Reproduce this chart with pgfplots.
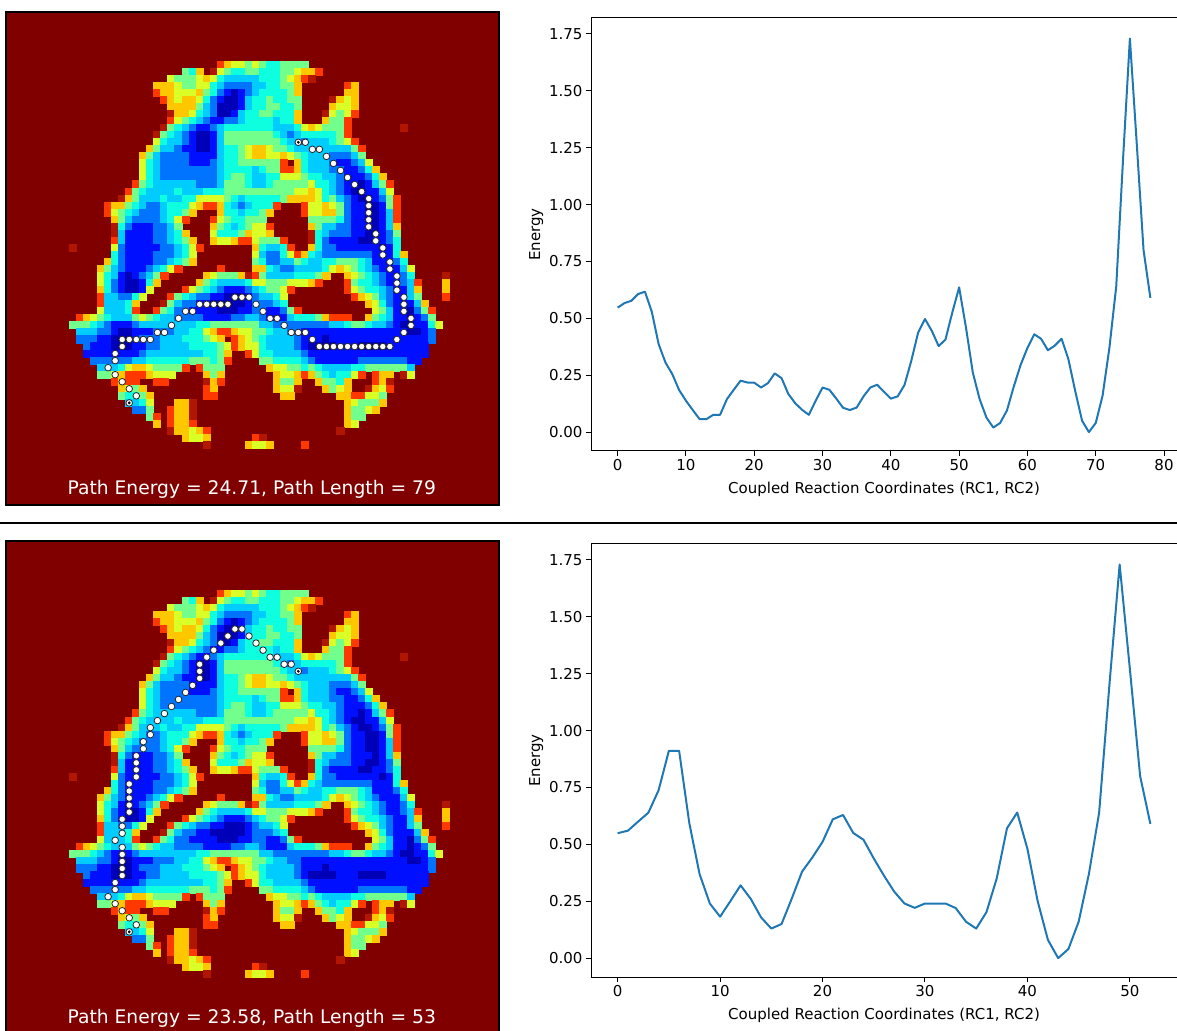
\documentclass[border=0pt]{standalone}
\usepackage{pgfplots}
\pgfplotsset{compat=1.18}
\usepackage{fontspec}
\setmainfont{DejaVu Sans}
\gdef\hmcoords{}
\newcommand\hmrow[3]{\foreach \v [count=\i from #2] in {#3}{\ifdim\v pt<9pt \xdef\hmcoords{\hmcoords (\i,#1) [\v]}\fi}}
\hmrow{7}{30}{8,7,6,6,5,6,5,4,4,5,5,5,5}
\hmrow{8}{25}{5,4,7,9,8.6,6,5,4,4,5,5,4,4,4,5,5,6,7,7,8}
\hmrow{9}{23}{6,5,5,5,6,7,6,4,3,3,3,3,3,4,4,4,5,6,7,8,8.6}
\hmrow{10}{21}{7,7,7,6,5,5,6,6,4,3,2,2,2,2,3,3,4,4,5,5,7,9,9,9,9,9,9,8,7}
\hmrow{11}{21}{8,7,7,6,6,6,7,5,4,2,1,0,1,2,3,4,4,4,4,5,7,9,9,9,9,9,9,7,7}
\hmrow{12}{22}{8,7,6,7,7,6,4,2,1,0,0,1,3,4,4,5,4,4,5,5,9,9,9,9,8.6,7,6,7}
\hmrow{13}{23}{7,7,7,7,5,3,2,0,0,0,1,3,4,4,5,5,4,4,5,9,9,9,9,7,6,6,7}
\hmrow{14}{23}{8.6,7,7,6,4,3,2,0,0,1,3,4,4,5,5,4,4,4,7,9,9,9,8.6,6,5,6,8}
\hmrow{15}{23}{8,6,5,4,3,2,1,1,2,2,3,4,4,4,4,3,4,4,7,9,9,9,7,5,5,8}
\hmrow{16}{22}{8.6,5,4,3,2,1,1,2,3,4,4,4,4,4,4,4,3,3,3,4,6,7,6,5,5,5,8}
\hmrow{16}{56}{8.6}
\hmrow{17}{21}{8.6,5,4,3,2,1,0,0,1,3,5,5,5,5,5,5,5,4,3,2,3,4,4,4,4,4,5,8}
\hmrow{18}{21}{6,4,3,3,2,1,0,0,1,3,5,5,5,5,5,5,5,5,4,3,3,2,3,3,3,4,5,6,8}
\hmrow{19}{20}{7,5,3,3,2,1,1,0,0,1,3,4,4,5,6,7,7,6,5,5,4,3,3,3,3,3,3,3,3,5,8}
\hmrow{20}{19}{7,5,3,2,2,2,2,1,1,1,1,3,4,4,5,6,7,7,6,6,7,6,5,4,3,3,3,2,2,2,3,5}
\hmrow{21}{19}{6,4,3,2,2,2,2,1,1,1,2,3,4,4,5,5,5,5,5,5,8,9,7,4,3,3,3,2,1,1,2,3,6}
\hmrow{22}{19}{6,4,3,2,2,2,2,2,2,2,2,3,4,4,4,4,3,4,5,5,8,8,7,4,3,3,3,2,2,1,1,2,4,7}
\hmrow{23}{19}{6,4,3,2,2,2,2,2,2,2,2,3,4,5,5,4,3,3,4,4,6,6,6,5,4,4,3,3,2,1,1,1,2,4,7}
\hmrow{24}{18}{8,5,4,3,3,3,3,3,3,2,2,2,3,5,5,5,4,3,3,4,5,5,5,5,5,6,4,4,3,2,1,1,0,1,3,5,8}
\hmrow{25}{17}{8,5,4,3,3,3,3,4,3,3,3,4,4,4,5,5,5,5,5,5,5,5,5,5,6,6,7,6,4,3,2,1,0,0,1,1,3,6}
\hmrow{26}{16}{8.6,7,5,3,3,3,4,3,3,4,4,6,6,6,6,5,4,3,4,4,4,4,4,5,7,7,7,7,6,4,5,3,2,1,0,0,1,2,5,8}
\hmrow{27}{14}{8,7,7,5,4,3,2,2,3,4,4,4,6,7,8,8,7,4,3,2,3,4,4,4,8,9,9,9,8,6,6,7,6,5,2,1,1,0,0,1,5,8}
\hmrow{28}{14}{8,6,5,4,3,2,2,2,3,4,4,5,7,9,9,9,7,4,4,3,4,4,5,7,9,9,9,9,8,6,6,7,7,5,2,1,1,0,0,1,3,8}
\hmrow{29}{15}{7,5,3,2,2,2,2,3,4,6,8,9,9,9,8,6,5,4,4,5,5,5,9,9,9,9,9,9,5,5,5,5,4,2,1,1,0,0,1,3,8}
\hmrow{30}{15}{8.6,4,2,1,1,1,2,2,3,5,9,9,9,9,7,5,4,3,4,5,6,6,8,9,9,9,9,9,7,5,3,3,2,2,1,1,1,0,1,3,7}
\hmrow{31}{15}{8.6,3,1,1,1,1,2,2,3,4,7,9,9,9,6,4,4,4,5,7,6,6,7,9,9,9,9,9,8.6,4,3,2,2,2,1,1,0,0,1,2,5}
\hmrow{32}{15}{8,3,1,1,1,1,2,2,3,4,5,7,9,9,7,6,6,7,8,8,6,5,5,5,8,9,9,9,8.6,4,2,1,1,1,1,0,0,1,1,2,4}
\hmrow{33}{9}{8.6}
\hmrow{33}{15}{6,2,1,1,1,1,1,2,2,3,4,6,8,9,9,9,9,9,9,9,7,4,3,3,4,8,9,9,7,4,2,2,1,1,1,1,1,1,0,1,4}
\hmrow{34}{15}{4,2,1,1,1,1,2,2,2,3,4,6,9,9,9,9,9,9,9,9,6,3,2,2,4,6,8,7,4,3,2,2,2,2,2,2,2,1,1,1,4,7}
\hmrow{35}{14}{7,4,2,1,1,1,1,2,2,3,4,5,7,9,9,9,9,9,9,9,9,5,4,2,2,3,3,5,4,3,3,4,4,5,5,5,4,3,1,1,1,2,4}
\hmrow{36}{13}{7,5,3,2,1,1,1,2,3,4,6,8,9,9,9,9,9,8,9,9,9,9,7,7,4,3,2,2,3,3,3,3,4,6,7,6,5,4,3,2,1,1,1,3,6}
\hmrow{37}{13}{6,4,3,1,0,1,2,3,5,8,9,9,9,9,9,7,6,5,5,5,7,8.6,8,5,3,3,3,3,4,4,4,5,7,9,9,7,6,5,4,3,2,1,1,2,4}
\hmrow{37}{62}{8.6}
\hmrow{38}{13}{6,4,2,1,0,0,1,4,7,9,9,9,9,9,7,5,4,3,3,3,3,4,6,6,5,5,5,6,6,6,7,8,9,9,9,8,5,4,4,3,2,1,1,2,3,8}
\hmrow{38}{62}{7}
\hmrow{39}{13}{7,4,2,1,0,0,1,6,9,9,9,9,8,6,5,4,3,2,1,1,1,2,3,4,5,5,6,8,9,9,9,9,9,9,9,8,6,5,4,4,3,2,1,1,3,7}
\hmrow{39}{62}{7}
\hmrow{40}{13}{8,3,3,2,2,4,6,9,9,9,8,5,4,3,2,2,1,1,0,0,0,1,2,3,3,4,6,9,9,9,9,9,9,9,9,9,8,7,6,5,3,2,1,1,3,5}
\hmrow{40}{62}{8}
\hmrow{41}{13}{8,3,3,3,4,7,9,9,9,8.6,5,3,2,2,1,1,0,0,0,0,0,1,2,2,2,3,4,9,9,9,9,9,9,9,9,9,9,9,7,6,4,2,1,1,1,3,7}
\hmrow{42}{13}{6,3,3,3,4,8,9,9,8,5,4,2,2,1,1,1,1,0,0,0,1,1,2,2,1,1,2,5,8,9,9,9,9,9,9,9,9,9,9,6,5,3,1,1,0,2,5,8}
\hmrow{43}{10}{8,7,6,5,4,3,3,3,5,6,5,4,3,3,2,2,2,2,1,1,1,1,2,2,3,3,2,1,1,1,3,4,4,4,5,7,8,8,8,9,9,7,5,4,3,1,1,0,1,2,5}
\hmrow{44}{9}{5,5,5,4,3,2,1,1,1,2,3,3,3,3,3,3,3,3,4,4,5,5,5,5,5,5,5,3,3,2,2,2,2,2,2,2,2,3,3,4,5,5,4,3,3,2,1,0,0,1,1,4,6}
\hmrow{45}{10}{3,3,3,2,2,1,0,0,1,1,1,2,2,2,3,3,4,4,6,7,8,8,7,6,6,5,5,4,3,3,2,2,1,1,1,1,1,1,1,1,1,1,1,1,1,1,1,0,0,1,2}
\hmrow{46}{10}{2,2,2,1,1,0,0,0,1,2,2,2,3,3,3,4,4,4,5,6,7,9,8,7,6,5,4,3,3,3,3,2,1,1,1,0,1,1,1,1,1,1,1,1,1,1,1,1,1,1,2}
\hmrow{47}{11}{2,1,1,1,0,0,0,1,1,2,2,3,3,3,3,4,4,4,4,5,6,8,7,6,6,4,3,3,3,3,2,1,0,0,0,0,1,1,1,0,0,0,0,1,1,1,1,1,1}
\hmrow{48}{11}{1,1,1,1,1,1,1,1,2,3,3,3,3,3,3,3,3,4,4,5,7,9,9,8,6,4,4,3,3,3,3,2,1,1,1,1,1,1,1,1,1,1,1,1,1,1,1,1,1}
\hmrow{49}{12}{2,2,2,2,2,2,3,3,4,4,4,4,4,4,5,5,5,4,5,8}
\hmrow{49}{36}{5,5,4,4,4,4,3,2,1,1,1,1,1,1,2,2,2,2,2,2,2,1,1}
\hmrow{50}{13}{3,3,3,4,6,7,7,6,5,5,5,5,8,9,8,5,5,5}
\hmrow{50}{37}{7,6,6,5,5,4,5,4,3,3,3,3,4,4,5,5,5,5,5,5,3}
\hmrow{51}{13}{5,5,6,7,8,8,8,7,6,6,6,9,9,9,9,7,5,7}
\hmrow{51}{38}{7,6,6,7,8,7,5,4,3,4,4,6,8,9,8,7,7,9,8.6,6}
\hmrow{52}{15}{8,7,8,8,9,9,8,8}
\hmrow{52}{28}{8.6,7,8}
\hmrow{52}{38}{7,5,5,7,9,9,7,5,5,4,7,9,9,9,8,7,8.6}
\hmrow{53}{16}{7,6,5,7}
\hmrow{53}{28}{8,7}
\hmrow{53}{38}{7,6,6,8.6}
\hmrow{53}{45}{7,5,6,7,9,9,8.6,7,6,8}
\hmrow{54}{16}{5,4,4,5,7}
\hmrow{54}{28}{8,8}
\hmrow{54}{39}{7,7}
\hmrow{54}{47}{7,7,8,8,6,6,5}
\hmrow{55}{17}{3,3,4,6}
\hmrow{55}{24}{7,7,8.6}
\hmrow{55}{48}{7,6,5,5,5,7}
\hmrow{56}{18}{2,2,5}
\hmrow{56}{23}{8,7,7,8.6}
\hmrow{56}{48}{7,5,5,6,7}
\hmrow{57}{20}{5,8}
\hmrow{57}{23}{8,7,7,8.6}
\hmrow{57}{48}{7,5,5}
\hmrow{58}{21}{7}
\hmrow{58}{23}{8,7,7,8}
\hmrow{58}{48}{7,6}
\hmrow{59}{23}{8.6,7,7,6,7,8}
\hmrow{59}{47}{8.6}
\hmrow{60}{25}{7,6,6,7}
\hmrow{60}{35}{8,8.6}
\hmrow{61}{28}{8.6}
\hmrow{61}{34}{7,6,6,7}
\hmrow{61}{42}{8}
\pgfplotstableread{
x y
41 18
42 18
43 19
44 19
45 20
46 21
47 22
48 23
49 24
50 25
51 26
51 27
51 28
51 29
51 30
52 31
52 32
53 33
53 34
54 35
54 36
55 37
55 38
55 39
56 40
56 41
56 42
57 43
57 44
56 45
55 46
54 47
53 47
52 47
51 47
50 47
49 47
48 47
47 47
46 47
45 47
44 47
43 46
42 45
41 45
40 45
39 44
38 43
37 43
36 42
35 41
34 40
33 40
32 40
31 41
30 41
29 41
28 41
27 41
26 42
25 42
24 43
23 44
22 45
21 45
20 46
19 46
18 46
17 46
16 46
16 47
15 48
15 49
14 50
15 51
16 52
17 53
18 54
17 55
}\pathA
\pgfplotstableread{
x y
41 18
40 17
39 17
38 16
37 16
36 15
35 14
34 13
33 12
32 12
31 13
30 14
29 15
28 16
27 17
27 18
27 19
26 20
25 21
24 22
23 23
22 24
21 25
20 26
20 27
19 28
19 29
18 30
18 31
18 32
18 33
17 34
17 35
17 36
17 37
17 38
16 39
16 40
16 41
15 42
16 43
16 44
16 45
16 46
16 47
15 48
15 49
14 50
15 51
16 52
17 53
18 54
17 55
}\pathB
\pgfplotstableread{
x y
0 0.547
1 0.567
2 0.577
3 0.607
4 0.617
5 0.529
6 0.387
7 0.306
8 0.255
9 0.185
10 0.138
11 0.097
12 0.057
13 0.057
14 0.076
15 0.076
16 0.145
17 0.186
18 0.226
19 0.218
20 0.217
21 0.196
22 0.215
23 0.258
24 0.237
25 0.167
26 0.127
27 0.098
28 0.076
29 0.138
30 0.196
31 0.186
32 0.148
33 0.107
34 0.097
35 0.108
36 0.157
37 0.196
38 0.208
39 0.177
40 0.147
41 0.157
42 0.207
43 0.314
44 0.438
45 0.497
46 0.445
47 0.378
48 0.407
49 0.526
50 0.636
51 0.46
52 0.262
53 0.145
54 0.064
55 0.02
56 0.04
57 0.095
58 0.2
59 0.295
60 0.37
61 0.43
62 0.41
63 0.36
64 0.38
65 0.41
66 0.32
67 0.18
68 0.05
69 0
70 0.04
71 0.16
72 0.37
73 0.64
74 1.2
75 1.73
76 1.27
77 0.8
78 0.59
}\energyA
\pgfplotstableread{
x y
0 0.549
1 0.56
2 0.6
3 0.639
4 0.738
5 0.911
6 0.911
7 0.592
8 0.369
9 0.24
10 0.182
11 0.25
12 0.32
13 0.26
14 0.179
15 0.13
16 0.15
17 0.262
18 0.38
19 0.442
20 0.511
21 0.61
22 0.629
23 0.55
24 0.52
25 0.438
26 0.362
27 0.292
28 0.24
29 0.221
30 0.24
31 0.24
32 0.24
33 0.22
34 0.16
35 0.13
36 0.202
37 0.35
38 0.57
39 0.64
40 0.48
41 0.25
42 0.08
43 0
44 0.04
45 0.16
46 0.37
47 0.64
48 1.2
49 1.73
50 1.27
51 0.8
52 0.59
}\energyB
\pgfplotsset{
 colormap={hm}{rgb=(0,0,.72) rgb=(0,.06,1) rgb=(0,.45,1) rgb=(0,.8,1) rgb=(.05,1,.88) rgb=(.45,1,.55) rgb=(.85,1,.15) rgb=(1,.78,0) rgb=(1,.22,0) rgb=(.5,0,0)},
 heatpanel/.style={width=493pt,height=493pt,scale only axis,xmin=-0.5,xmax=69.5,ymin=-0.5,ymax=69.5,y dir=reverse,
  xtick=\empty,ytick=\empty,axis line style={black,line width=1.4pt},axis on top,
  axis background/.style={fill={rgb,1:red,.5;green,0;blue,0}},
  colormap name=hm,point meta min=0,point meta max=9},
 heat/.style={scatter,only marks,point meta=explicit,mark=square*,mark size=3.56pt,mark options={line width=0pt},
  scatter/use mapped color={draw=mapped color,fill=mapped color}},
 pathline/.style={only marks,mark=*,mark size=3.3pt,mark options={fill=white,draw=black!85,line width=.8pt}},
 linepanel/.style={width=586pt,height=433pt,scale only axis,ymin=-0.083,ymax=1.82,
  ytick={0,0.25,0.5,0.75,1,1.25,1.5,1.75},
  yticklabel style={/pgf/number format/fixed,/pgf/number format/fixed zerofill,/pgf/number format/precision=2},
  /pgf/number format/assume math mode=true,
  tick label style={font=\fontsize{15}{17}\selectfont},label style={font=\fontsize{15}{17}\selectfont},
  tick align=outside,tick pos=left,major tick length=5pt,every tick/.style={black,line width=1pt},
  axis line style={black,line width=1pt},
  xlabel={Coupled Reaction Coordinates (RC1, RC2)},ylabel={Energy},
  xlabel style={yshift=-4pt},ylabel style={yshift=-1pt},clip=false},
 energy/.style={color={rgb,255:red,31;green,119;blue,180},line width=2pt,line join=round}
}
\newcommand\plotheat{\edef\tmpplot{\noexpand\addplot[heat] coordinates {\hmcoords};}\tmpplot}
\begin{document}
\begin{tikzpicture}[x=1pt,y=1pt]
\path[use as bounding box] (0,0) rectangle (1177,1030);
\clip (0,0) rectangle (1177,1030);
\begin{axis}[heatpanel,at={(6pt,525pt)},anchor=south west]
\plotheat
\addplot[pathline] table[x=x,y=y] {\pathA};
\addplot[only marks,mark=*,mark size=1.2pt,black] coordinates {(41,18) (17,55)};
\node[white,font=\fontsize{18.7}{22}\selectfont] at (axis cs:34.4,67.3) {Path Energy = 24.71, Path Length = 79};
\end{axis}
\begin{axis}[linepanel,at={(591pt,579pt)},anchor=south west,xmin=-3.9,xmax=81.9,xtick={0,10,20,30,40,50,60,70,80}]
\addplot[energy] table[x=x,y=y] {\energyA};
\end{axis}
\draw[black,line width=1.5pt] (0,507) -- (1177,507);
\begin{axis}[heatpanel,at={(6pt,-4pt)},anchor=south west]
\plotheat
\addplot[pathline] table[x=x,y=y] {\pathB};
\addplot[only marks,mark=*,mark size=1.2pt,black] coordinates {(41,18) (17,55)};
\node[white,font=\fontsize{18.7}{22}\selectfont] at (axis cs:34.4,67.3) {Path Energy = 23.58, Path Length = 53};
\end{axis}
\begin{axis}[linepanel,at={(591pt,53pt)},anchor=south west,xmin=-2.6,xmax=54.6,xtick={0,10,20,30,40,50}]
\addplot[energy] table[x=x,y=y] {\energyB};
\end{axis}
\end{tikzpicture}
\end{document}
